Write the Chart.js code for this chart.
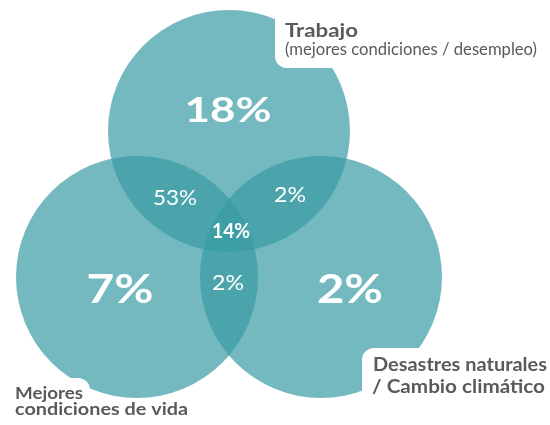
<!DOCTYPE html>
<html>
<head>
<meta charset="utf-8">
<script src="https://cdn.jsdelivr.net/npm/chart.js@4/dist/chart.umd.min.js"></script>
<style>
  html, body { margin: 0; padding: 0; background: #ffffff; }
  #wrap { width: 550px; height: 425px; position: relative; }
</style>
</head>
<body>
<div id="wrap"><canvas id="c"></canvas></div>
<script>
// ---- data ----
const categories = ['Trabajo', 'Mejores condiciones de vida', 'Desastres naturales / Cambio climático'];
const circleX = [229, 137, 321];
const circleY = [131, 277, 277];
const circleR = [121, 121, 121];

const regionNames = ['Trabajo', 'Vida', 'Desastres', 'Trabajo+Vida', 'Trabajo+Desastres', 'Vida+Desastres', 'Todos'];
const regionValues = [18, 7, 2, 53, 2, 2, 14];

// ---- layout (label anchors in axis units; w = target text width) ----
const regionAnchors = [
  { x: 228, y: 122, w: 87, font: 'bold 35px Lato' },
  { x: 120, y: 303, w: 67, font: 'bold 40px Lato' },
  { x: 350, y: 303, w: 66, font: 'bold 40px Lato' },
  { x: 175, y: 205, w: 44, font: '22px Lato' },
  { x: 290, y: 202, w: 32, font: '21px Lato' },
  { x: 228, y: 290, w: 32, font: '21px Lato' },
  { x: 231, y: 238, w: 38, font: 'bold 20px Lato' }
];

const labelBlocks = [
  { box: { x0: 275, y0: -20, x1: 560, y1: 68, corner: 'bl' },
    lines: [ { t: 'Trabajo', x: 285, y: 37, w: 73, font: 'bold 19.5px Lato' },
             { t: '(mejores condiciones / desempleo)', x: 285, y: 55, w: 252, font: '16.5px Lato' } ] },
  { box: { x0: 362, y0: 348, x1: 560, y1: 440, corner: 'tl' },
    lines: [ { t: 'Desastres naturales', x: 373, y: 371, w: 174, font: 'bold 18px Lato' },
             { t: '/ Cambio climático', x: 372, y: 393, w: 173, font: 'bold 18px Lato' } ] },
  { box: { x0: -10, y0: 378, x1: 90, y1: 440, corner: 'tr' },
    lines: [ { t: 'Mejores', x: 15, y: 399, w: 68, font: 'bold 17px Lato' },
             { t: 'condiciones de vida', x: 15, y: 415, w: 173, font: 'bold 17px Lato' } ] }
];

function drawFitted(ctx, text, x, y, w, align) {
  const m = ctx.measureText(text).width;
  const sx = m > 0 ? w / m : 1;
  ctx.save();
  ctx.translate(x, y);
  ctx.scale(sx, 1);
  ctx.textAlign = align;
  ctx.textBaseline = 'alphabetic';
  ctx.fillText(text, 0, 0);
  ctx.restore();
}

const overlayPlugin = {
  id: 'venn',
  afterDatasetsDraw(chart) {
    const ctx = chart.ctx;
    const xs = chart.scales.x, ys = chart.scales.y;
    const px = v => xs.getPixelForValue(v), py = v => ys.getPixelForValue(v);
    ctx.save();
    // white label boxes + labels
    labelBlocks.forEach(b => {
      const x0 = px(b.box.x0), x1 = px(b.box.x1), y0 = py(b.box.y0), y1 = py(b.box.y1);
      const r = 12;
      const radii = { tl: 0, tr: 0, br: 0, bl: 0 };
      radii[b.box.corner] = r;
      ctx.fillStyle = '#ffffff';
      ctx.beginPath();
      ctx.roundRect(x0, y0, x1 - x0, y1 - y0, [radii.tl, radii.tr, radii.br, radii.bl]);
      ctx.fill();
      ctx.fillStyle = '#5a5a5a';
      b.lines.forEach(l => {
        ctx.font = l.font;
        drawFitted(ctx, l.t, px(l.x), py(l.y), l.w, 'left');
      });
    });
    // region values
    ctx.fillStyle = '#ffffff';
    regionValues.forEach((v, i) => {
      const a = regionAnchors[i];
      ctx.font = a.font;
      drawFitted(ctx, v + '%', px(a.x), py(a.y), a.w, 'center');
    });
    ctx.restore();
  }
};

new Chart(document.getElementById('c'), {
  type: 'bubble',
  data: {
    labels: categories,
    datasets: [{
      label: 'Venn',
      data: categories.map((c, i) => ({ x: circleX[i], y: circleY[i], r: circleR[i] })),
      backgroundColor: 'rgba(58,156,164,0.705)',
      borderWidth: 0,
      hoverBorderWidth: 0,
      clip: false
    }]
  },
  options: {
    responsive: true,
    maintainAspectRatio: false,
    animation: false,
    events: [],
    layout: { padding: 0, autoPadding: false },
    plugins: { legend: { display: false }, tooltip: { enabled: false } },
    scales: {
      x: { type: 'linear', min: 0, max: 550, display: false },
      y: { type: 'linear', min: 0, max: 425, reverse: true, display: false }
    }
  },
  plugins: [overlayPlugin]
});
</script>
</body>
</html>
